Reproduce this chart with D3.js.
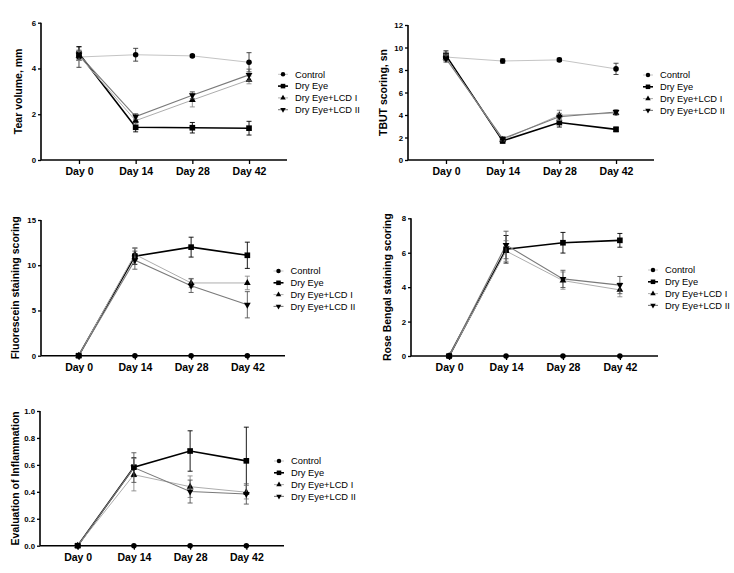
<!DOCTYPE html>
<html lang="en">
<head>
	<meta charset="UTF-8">
	<title>Dry eye scores</title>
	<script src="https://d3js.org/d3.v7.min.js"></script>
	<style>
		body{ margin:0; background:#fff; }
		svg{ font-family:"Liberation Sans", Arial, sans-serif; }
		.tick text{ font-weight:bold; }
	</style>
</head>
<body>
	<script type="text/javascript">
		var days = ["Day 0", "Day 14", "Day 28", "Day 42"];
		var groups = ["Control", "Dry Eye", "Dry Eye+LCD I", "Dry Eye+LCD II"];

		// rows: Control, Dry Eye, LCD I, LCD II
		var tearMean = [[4.5, 4.6, 4.55, 4.27], [4.65, 1.43, 1.41, 1.39], [4.55, 1.72, 2.62, 3.5], [4.6, 1.9, 2.83, 3.72]];
		var tearErr  = [[0.45, 0.28, 0.05, 0.42], [0.3, 0.2, 0.23, 0.3], [0.2, 0.15, 0.3, 0.17], [0.2, 0.12, 0.15, 0.25]];

		var tbutMean = [[9.15, 8.8, 8.9, 8.1], [9.3, 1.7, 3.33, 2.72], [9.1, 1.8, 3.97, 4.17], [9.0, 1.9, 3.85, 4.27]];
		var tbutErr  = [[0.3, 0.2, 0.15, 0.5], [0.4, 0.2, 0.4, 0.2], [0.3, 0.15, 0.45, 0.2], [0.3, 0.15, 0.3, 0.2]];

		var fluoMean = [[0, 0, 0, 0], [0, 11.0, 12.0, 11.1], [0, 11.2, 8.04, 8.04], [0, 10.56, 7.74, 5.63]];
		var fluoErr  = [[0, 0, 0, 0], [0, 0.9, 1.1, 1.45], [0, 0.7, 0.5, 0.75], [0, 1.0, 0.75, 1.45]];

		var roseMean = [[0, 0, 0, 0], [0, 6.2, 6.58, 6.72], [0, 6.1, 4.38, 3.84], [0, 6.45, 4.48, 4.12]];
		var roseErr  = [[0, 0, 0, 0], [0, 0.8, 0.6, 0.4], [0, 0.6, 0.5, 0.4], [0, 0.8, 0.5, 0.5]];

		var inflMean = [[0, 0, 0, 0], [0, 0.583, 0.703, 0.63], [0, 0.527, 0.438, 0.397], [0, 0.58, 0.402, 0.384]];
		var inflErr  = [[0, 0, 0, 0], [0, 0.07, 0.15, 0.25], [0, 0.12, 0.08, 0.05], [0, 0.11, 0.085, 0.075]];

		var lineColor = ["#c4c4c4", "#000", "#adadad", "#7a7a7a"];
		var barColor = ["#333", "#000", "#8a8a8a", "#555"];
		var lineWidth = [1, 1.6, 1, 1.1];

		var panels = [
			{mean: tearMean, err: tearErr, left: 41, right: 287, top: 22.7, bottom: 160, max: 6, ticks: [0, 2, 4, 6], fmt: "d",
			 label: "Tear volume, mm", labelX: 18, legX: 283, legY: 74.3},
			{mean: tbutMean, err: tbutErr, left: 408, right: 654, top: 25, bottom: 160, max: 12, ticks: [0, 2, 4, 6, 8, 10, 12], fmt: "d",
			 label: "TBUT scoring, sn", labelX: 383, legX: 648, legY: 75},
			{mean: fluoMean, err: fluoErr, left: 41, right: 285, top: 220, bottom: 355.7, max: 15, ticks: [0, 5, 10, 15], fmt: "d",
			 label: "Fluorescein staining scoring", labelX: 15, legX: 278.5, legY: 271},
			{mean: roseMean, err: roseErr, left: 411, right: 658, top: 218.3, bottom: 356, max: 8, ticks: [0, 2, 4, 6, 8], fmt: "d",
			 label: "Rose Bengal staining scoring", labelX: 387, legX: 653, legY: 270},
			{mean: inflMean, err: inflErr, left: 40, right: 284, top: 411, bottom: 545.7, max: 1, ticks: [0, 0.2, 0.4, 0.6, 0.8, 1.0], fmt: ".1f",
			 label: "Evaluation of Inflammation", labelX: 15, legX: 279, legY: 461}
		];

		var svg = d3.select("body").append("svg")
			.attr("width", 734).attr("height", 573);

		var symbols = [d3.symbolCircle, d3.symbolSquare, d3.symbolTriangle, d3.symbolTriangle];
		var symSize = [24, 32, 20, 20];

		function marker(g, i, x, y, k) {
			g.append("path")
				.attr("d", d3.symbol().type(symbols[i]).size(symSize[i] * (k || 1))())
				.attr("transform", "translate(" + x + "," + y + ")" + (i == 3 ? " rotate(180)" : ""))
				.attr("fill", "#000");
		}

		panels.forEach(function(p){
			var x = d3.scalePoint().domain(days).range([p.left, p.right]).padding(0.67);
			var y = d3.scaleLinear().domain([0, p.max]).range([p.bottom, p.top]);
			var g = svg.append("g");

			// series
			groups.forEach(function(name, i){
				var pts = days.map(function(d, k){ return {d: d, v: p.mean[i][k], e: p.err[i][k]}; });
				var line = d3.line().x(function(d){ return x(d.d); }).y(function(d){ return y(d.v); });
				g.append("path").datum(pts)
					.attr("d", line)
					.attr("fill", "none")
					.attr("stroke", lineColor[i])
					.attr("stroke-width", lineWidth[i]);
			});
			groups.forEach(function(name, i){
				var pts = days.map(function(d, k){ return {d: d, v: p.mean[i][k], e: p.err[i][k]}; });
				pts.forEach(function(d){
					if (d.e <= 0) return;
					var cx = x(d.d), y1 = y(d.v + d.e), y2 = y(Math.max(0, d.v - d.e));
					var eg = g.append("g").attr("stroke", barColor[i]).attr("stroke-width", 0.9);
					eg.append("line").attr("x1", cx).attr("x2", cx).attr("y1", y1).attr("y2", y2);
					eg.append("line").attr("x1", cx - 2.5).attr("x2", cx + 2.5).attr("y1", y1).attr("y2", y1);
					eg.append("line").attr("x1", cx - 2.5).attr("x2", cx + 2.5).attr("y1", y2).attr("y2", y2);
				});
				pts.forEach(function(d){ marker(g, i, x(d.d), y(d.v)); });
			});

			// axes
			var ya = g.append("g")
				.attr("transform", "translate(" + p.left + ",0)")
				.call(d3.axisLeft(y).tickValues(p.ticks).tickFormat(d3.format(p.fmt)).tickSize(3).tickPadding(2));
			ya.selectAll("text").attr("font-size", 7.8).attr("fill", "#000");
			var xa = g.append("g")
				.attr("transform", "translate(0," + p.bottom + ")")
				.call(d3.axisBottom(x).tickSize(4).tickPadding(4).tickSizeOuter(0));
			xa.selectAll("text").attr("font-size", 10.5).attr("fill", "#000");
			[ya, xa].forEach(function(a){
				a.select(".domain").attr("stroke", "#000").attr("stroke-width", 1.6);
				a.selectAll(".tick line").attr("stroke", "#000").attr("stroke-width", 1.3);
			});
			ya.select(".domain").attr("d", "M0," + p.bottom + "V" + p.top);
			xa.select(".domain").attr("d", "M" + p.left + ",0H" + p.right);

			g.append("text")
				.attr("transform", "translate(" + p.labelX + "," + ((p.top + p.bottom) / 2) + ") rotate(-90)")
				.attr("text-anchor", "middle")
				.attr("dy", "0.35em")
				.attr("font-size", 10.5)
				.attr("font-weight", "bold")
				.text(p.label);

			// legend
			groups.forEach(function(name, i){
				var ly = p.legY + i * 11.8;
				g.append("line")
					.attr("x1", p.legX - 5).attr("x2", p.legX + 5)
					.attr("y1", ly).attr("y2", ly)
					.attr("stroke", lineColor[i]).attr("stroke-width", lineWidth[i]);
				marker(g, i, p.legX, ly, 0.65);
				g.append("text")
					.attr("x", p.legX + 12).attr("y", ly)
					.attr("dy", "0.35em")
					.attr("font-size", 9.3)
					.text(name);
			});
		});
	</script>
</body>
</html>
